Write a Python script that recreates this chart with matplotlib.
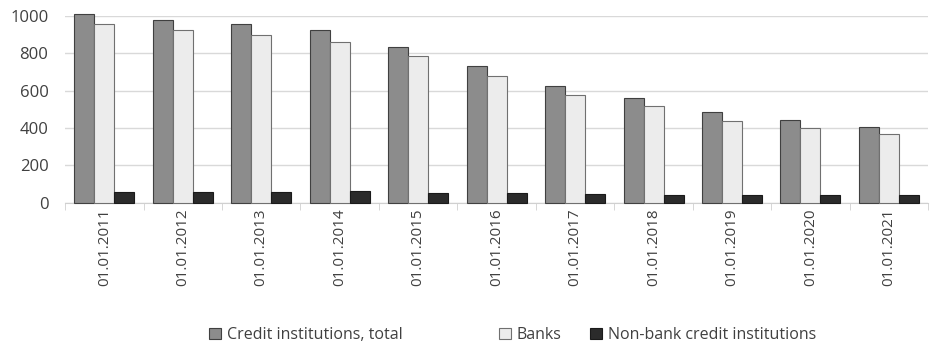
import numpy as np
import matplotlib
matplotlib.use('Agg')
import matplotlib.pyplot as plt

plt.rcParams['font.family'] = ['Open Sans', 'DejaVu Sans']

dates = ['01.01.2011', '01.01.2012', '01.01.2013', '01.01.2014', '01.01.2015', '01.01.2016',
         '01.01.2017', '01.01.2018', '01.01.2019', '01.01.2020', '01.01.2021']
total = [1012, 978, 956, 923, 834, 733, 623, 561, 484, 442, 406]
banks = [955, 922, 897, 859, 783, 681, 575, 517, 440, 402, 366]
nonbank = [57, 56, 59, 64, 51, 52, 48, 44, 44, 40, 40]

fig = plt.figure(figsize=(9.3, 3.45), dpi=100)
ax = fig.add_axes([0.07, 0.412, 0.928, 0.542])

x = np.arange(len(dates))
w = 0.255
b1 = ax.bar(x - w, total, w, color='#8c8c8c', edgecolor='#404040', linewidth=0.8, clip_on=False, zorder=3)
b2 = ax.bar(x, banks, w, color='#ececec', edgecolor='#707070', linewidth=0.8, clip_on=False, zorder=3)
b3 = ax.bar(x + w, nonbank, w, color='#2b2b2b', edgecolor='#1a1a1a', linewidth=0.8, clip_on=False, zorder=3)

ax.set_xlim(-0.5, len(dates) - 0.5)
ax.set_ylim(0, 1000)
ax.set_yticks(range(0, 1001, 200))
ax.yaxis.grid(True, color='#d9d9d9', linewidth=1)
ax.set_axisbelow(True)
for s in ['top', 'right', 'left']:
    ax.spines[s].set_visible(False)
ax.spines['bottom'].set_color('#d0d0d0')

ax.set_xticks(x)
ax.set_xticklabels(dates, rotation=90, fontsize=11, color='#404040')
ax.tick_params(axis='x', length=0, pad=4)
ax.set_xticks(np.arange(-0.5, len(dates), 1), minor=True)
ax.tick_params(axis='x', which='minor', length=5, color='#d0d0d0')
ax.tick_params(axis='y', length=0, labelsize=12, labelcolor='#404040', pad=12)

kw = dict(frameon=False, fontsize=11.5, handlelength=0.75, handleheight=0.75,
          handletextpad=0.35, borderpad=0, labelcolor='#404040')
fig.legend([b1], ['Credit institutions, total'], loc='center left',
           bbox_to_anchor=(201 / 930, 0.029), **kw)
fig.legend([b2, b3], ['Banks', 'Non-bank credit institutions'], loc='center left',
           bbox_to_anchor=(491 / 930, 0.029), ncol=2, columnspacing=1.8, **kw)

fig.savefig('out.png', dpi=100)
